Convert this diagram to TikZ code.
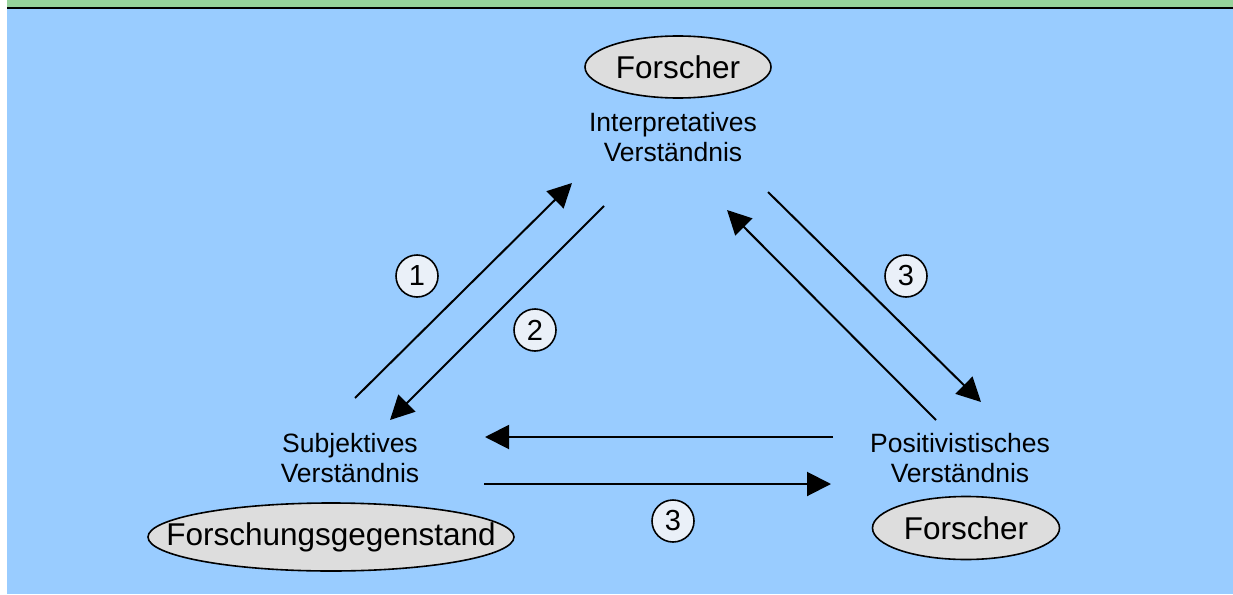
\documentclass[tikz,border=0pt]{standalone}
\usepackage{fontspec}
\setmainfont{Liberation Sans}
\usetikzlibrary{shapes.geometric,arrows.meta}
\definecolor{panelblue}{RGB}{153,204,255}
\definecolor{bandgreen}{RGB}{150,210,155}
\definecolor{ovalgray}{RGB}{221,221,221}
\definecolor{markfill}{RGB}{234,240,248}
\tikzset{
  oval/.style={ellipse, draw, line width=1.6pt, fill=ovalgray, inner sep=0pt,
    font=\fontsize{31.5}{36}\selectfont},
  caption/.style={align=center, inner sep=0pt, font=\fontsize{26.5}{30}\selectfont},
  marker/.style={circle, draw, line width=1.6pt, fill=markfill, inner sep=0pt,
    minimum size=42pt, font=\fontsize{29}{32}\selectfont},
  flow/.style={line width=2pt, -{Triangle[length=24pt,width=24pt]}}
}
\begin{document}
\begin{tikzpicture}[x=1pt,y=-1pt]
\useasboundingbox (0,0) rectangle (1233,594);
% panel background
\fill[white] (0,0) rectangle (1233,594);
\fill[bandgreen] (7,0) rectangle (1233,7);
\fill[black] (7,7) rectangle (1233,9.5);
\fill[panelblue] (7,9.5) rectangle (1233,594);

% ovals
\node[oval, minimum width=186pt, minimum height=62pt] (topres) at (678,67) {\makebox[0pt]{Forscher}};
\node[oval, minimum width=366pt, minimum height=68pt] (object) at (331,537) {\makebox[0pt]{Forschungsgegenstand}};
\node[oval, minimum width=187pt, minimum height=63pt] (rightres) at (966,528) {\makebox[0pt]{Forscher}};

% the three kinds of understanding
\node[caption] (interp) at (673,137.5) {Interpretatives\\Verständnis};
\node[caption] (subj) at (350,458) {Subjektives\\Verständnis};
\node[caption] (posit) at (960,458) {Positivistisches\\Verständnis};

% arrow end points
\coordinate (s1a) at (355,398);  \coordinate (s1b) at (572,183);
\coordinate (s2a) at (604,206);  \coordinate (s2b) at (390,420);
\coordinate (s3a) at (936,420);  \coordinate (s3b) at (727,210);
\coordinate (s4a) at (768,192);  \coordinate (s4b) at (981,402);
\coordinate (s5a) at (833,437);  \coordinate (s5b) at (485,437);
\coordinate (s6a) at (484,484);  \coordinate (s6b) at (831,484);

\draw[flow] (s1a) -- (s1b);
\draw[flow] (s2a) -- (s2b);
\draw[flow] (s3a) -- (s3b);
\draw[flow] (s4a) -- (s4b);
\draw[flow] (s5a) -- (s5b);
\draw[flow] (s6a) -- (s6b);

% step markers
\node[marker] (m1) at (417,276) {1};
\node[marker] (m2) at (535,330) {2};
\node[marker] (m3a) at (906,276) {3};
\node[marker] (m3b) at (673,521) {3};
\end{tikzpicture}
\end{document}
